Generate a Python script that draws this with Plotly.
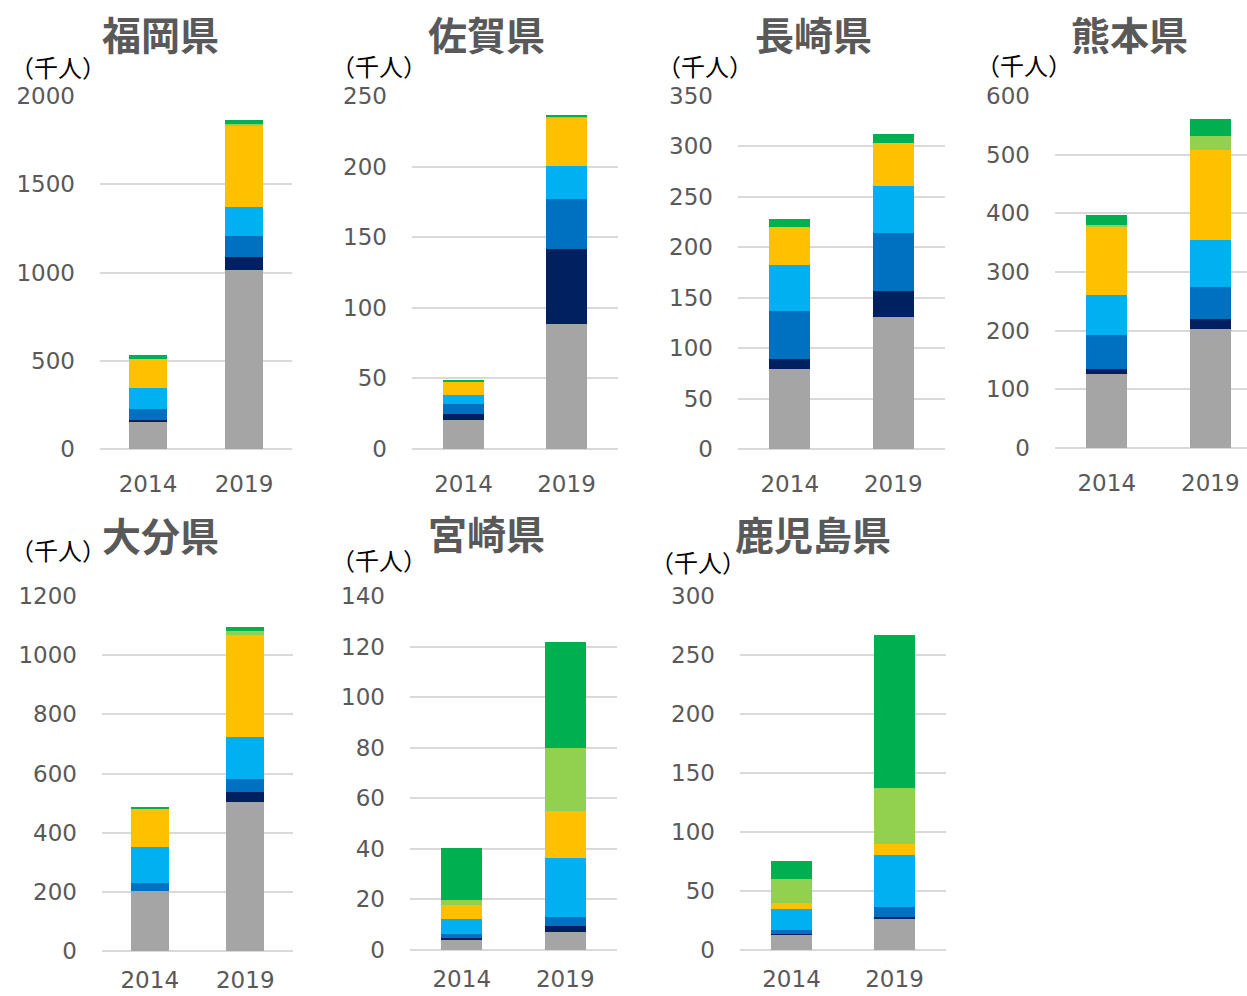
import plotly.graph_objects as go

# Prefectures, years and stacked series (thousand persons)
prefectures = ["福岡県", "佐賀県", "長崎県", "熊本県", "大分県", "宮崎県", "鹿児島県"]
years = ["2014", "2019"]

# each list: one [2014, 2019] pair per prefecture, bottom segment first
s_gray = [[153, 1014], [20.3, 88.6], [79.8, 130.6], [126, 203], [202.8, 503.7], [4.0, 7.3], [13.0, 26.0]]
s_navy = [[9, 76], [4.2, 52.8], [9.3, 26.1], [9.5, 17], [0, 32.3], [0.6, 2.2], [0.3, 2.3]]
s_blue = [[64, 116], [7.5, 35.8], [48.1, 57.7], [56.5, 54.5], [28.2, 46.5], [1.7, 3.4], [3.7, 8.5]]
s_lightblue = [[119, 166], [5.9, 23.5], [45.2, 46.2], [69, 80.5], [121.7, 139.8], [6.0, 23.6], [17.5, 43.5]]
s_yellow = [[164, 462], [10.2, 34.4], [38, 43.2], [115, 152.6], [128.3, 346], [5.5, 18.5], [5.1, 9.6]]
s_lightgreen = [[0, 6], [0, 0.5], [0, 0], [4, 23.4], [1.5, 15], [2.1, 24.8], [20.6, 47.2]]
s_green = [[22, 26], [0.9, 1.2], [7.6, 8.9], [17, 30], [5.4, 12], [20.3, 42], [15.6, 129.8]]

y_max = [2000, 250, 350, 600, 1200, 140, 300]
y_step = [500, 50, 50, 100, 200, 20, 50]

series = [
    ("gray", s_gray, "#a5a5a5"),
    ("navy", s_navy, "#002060"),
    ("blue", s_blue, "#0070c0"),
    ("lightblue", s_lightblue, "#00b0f0"),
    ("yellow", s_yellow, "#ffc000"),
    ("lightgreen", s_lightgreen, "#92d050"),
    ("green", s_green, "#00b050"),
]

W, H = 1247, 996


def px_x(x):
    return x / W


def px_y(y):
    return (H - y) / H


# plot areas in pixels: (left, right, top, bottom), x-range end, x label gap
panels = [
    (100, 292, 96, 449, 1.5, 19),
    (412, 618, 96, 449, 1.5, 19),
    (738, 945, 96, 449, 1.5, 19),
    (1055, 1247, 96, 448, 1.355, 19),
    (102, 293, 596, 951, 1.5, 13),
    (410, 617, 596, 950, 1.5, 13),
    (740, 946, 596, 950, 1.5, 13),
]

# title centre (x, y) and unit label left/centre-y
title_pos = [(160, 33), (486, 33), (813, 33), (1129, 33), (160, 534), (486, 532), (813, 533)]
unit_pos = [(8, 67), (329, 65), (655, 65), (974, 64), (8, 549), (329, 559), (648, 561)]

fig = go.Figure()
layout = {}
annotations = []

grid = "#d9d9d9"
tick_color = "#595959"
tick_font = dict(family="DejaVu Sans", size=23, color=tick_color)

for i, pref in enumerate(prefectures):
    n = i + 1
    xa = "x" if n == 1 else f"x{n}"
    ya = "y" if n == 1 else f"y{n}"
    for name, data, color in series:
        fig.add_trace(go.Bar(
            x=years, y=data[i], name=name, marker_color=color,
            marker_line_width=0, width=0.4, xaxis=xa, yaxis=ya,
            showlegend=False,
        ))
    l, r, t, b, xend, xgap = panels[i]
    layout["xaxis" if n == 1 else f"xaxis{n}"] = dict(
        domain=[px_x(l), px_x(r)], anchor=ya, type="category",
        range=[-0.5, xend], showgrid=False, showline=False, zeroline=False,
        ticks="", ticklabelstandoff=xgap, automargin=False, tickfont=tick_font,
    )
    layout["yaxis" if n == 1 else f"yaxis{n}"] = dict(
        domain=[px_y(b), px_y(t)], anchor=xa, range=[0, y_max[i]],
        dtick=y_step[i], showgrid=True, gridcolor=grid, gridwidth=2,
        zeroline=True, zerolinecolor=grid, zerolinewidth=2, showline=False,
        ticks="", ticklabelstandoff=24, automargin=False, tickfont=tick_font,
    )
    tx, ty = title_pos[i]
    annotations.append(dict(
        text=f"<b>{pref}</b>", x=px_x(tx), y=px_y(ty), xref="paper", yref="paper",
        xanchor="center", yanchor="middle", showarrow=False,
        font=dict(family="Noto Sans CJK JP", size=39, color=tick_color),
    ))
    ux, uy = unit_pos[i]
    annotations.append(dict(
        text="（千人）", x=px_x(ux), y=px_y(uy), xref="paper", yref="paper",
        xanchor="left", yanchor="middle", showarrow=False,
        font=dict(family="Noto Sans CJK JP", size=24, color="#000000"),
    ))

fig.update_layout(
    **layout,
    barmode="stack",
    width=W, height=H,
    margin=dict(l=0, r=0, t=0, b=0, autoexpand=False),
    paper_bgcolor="white", plot_bgcolor="white",
    annotations=annotations,
    bargap=0.6,
)

fig.write_html("out.html")
